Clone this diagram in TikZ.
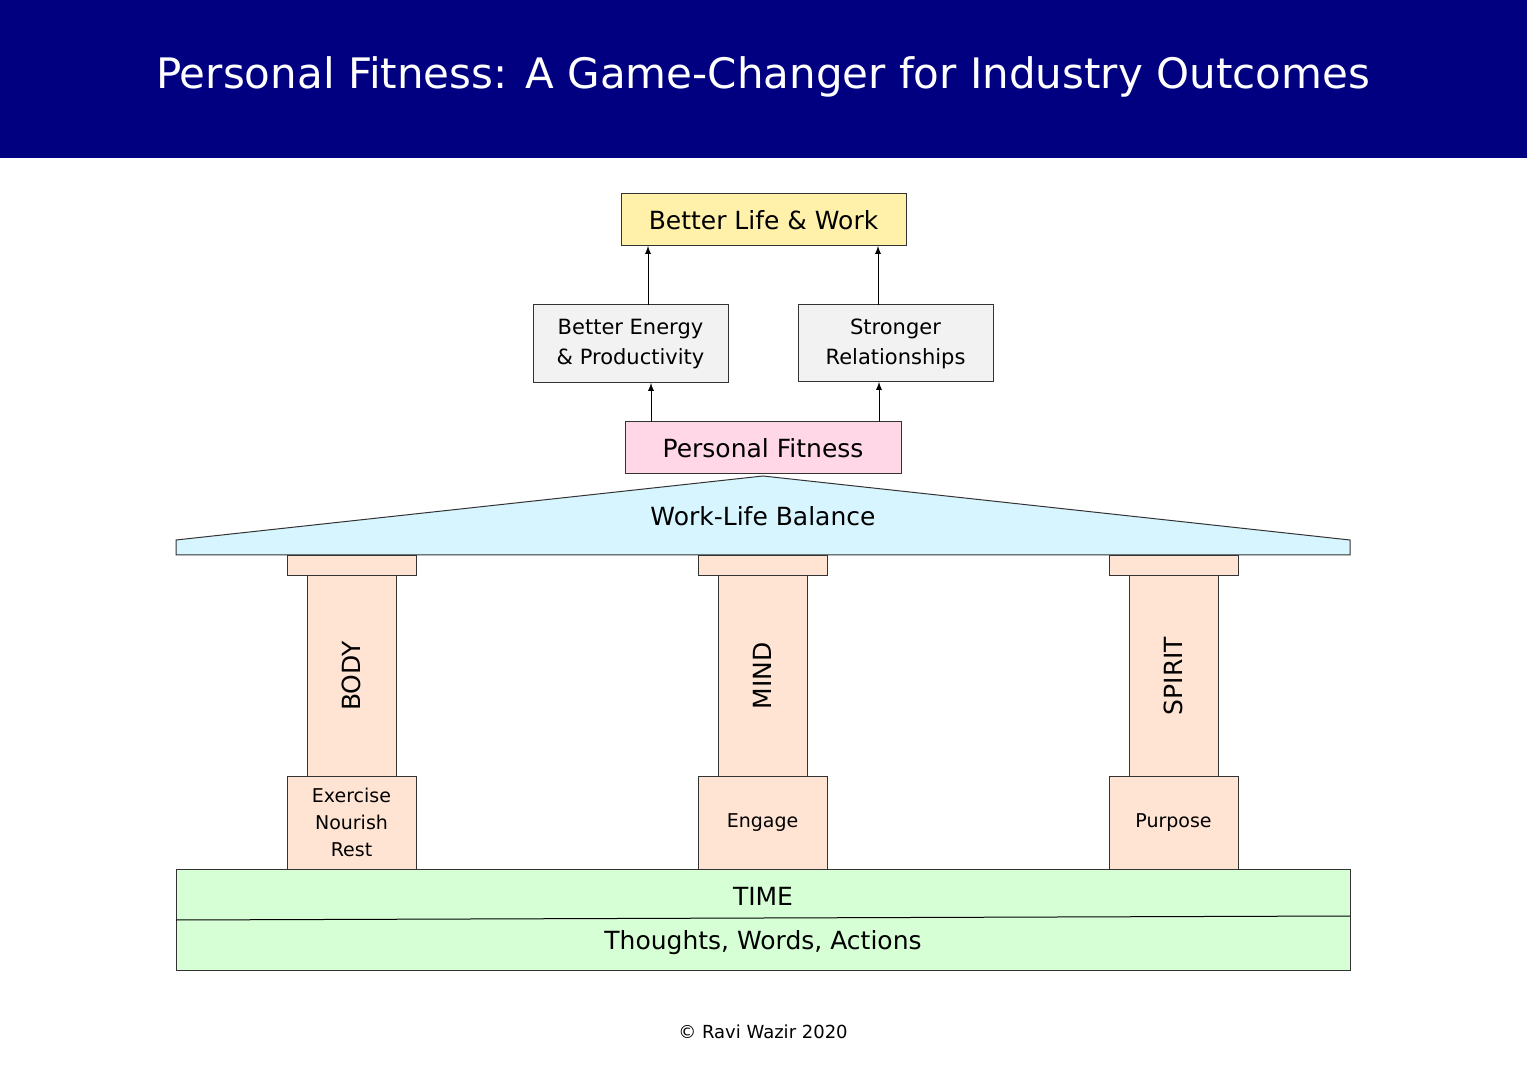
\documentclass[tikz,border=0pt]{standalone}
\usepackage{fontspec}
\setmainfont{DejaVu Sans}
\begin{document}
\begin{tikzpicture}[x=0.5pt,y=-0.5pt,
 box/.style={draw=black!80,line width=0.5pt,inner sep=0pt,align=center},
 arr/.style={-latex,line width=0.4pt}]
\useasboundingbox (0,0) rectangle (1527,1080);
\fill[white] (0,0) rectangle (1527,1080);
\fill[fill={rgb,255:red,0;green,0;blue,128}] (0,0) rectangle (1527,158);
\node[text=white,font=\fontsize{21}{25}\selectfont] (title) at (763,77) {Personal Fitness: A Game-Changer for Industry Outcomes};
\node[box,fill={rgb,255:red,255;green,240;blue,170},minimum width=142.5pt,minimum height=26pt,font=\fontsize{12.5}{15}\selectfont] (life) at (763.5,220) {Better Life \& Work};
\node[box,fill={rgb,255:red,242;green,242;blue,242},minimum width=97.5pt,minimum height=39pt,font=\fontsize{10.5}{15}\selectfont] (energy) at (630.5,344) {Better Energy\\ \& Productivity};
\node[box,fill={rgb,255:red,242;green,242;blue,242},minimum width=97.5pt,minimum height=38.5pt,font=\fontsize{10.5}{15}\selectfont] (rel) at (895.5,343.5) {Stronger\\Relationships};
\node[box,fill={rgb,255:red,255;green,215;blue,230},minimum width=138pt,minimum height=26pt,font=\fontsize{12.5}{15}\selectfont] (pf) at (763,448) {Personal Fitness};
\draw[arr] (648,305) coordinate (a1) -- (648,246) coordinate (b1);
\draw[arr] (878,305) coordinate (a2) -- (878,246) coordinate (b2);
\draw[arr] (651,422) coordinate (a3) -- (651,383) coordinate (b3);
\draw[arr] (879,422) coordinate (a4) -- (879,382) coordinate (b4);
\draw[draw=black!80,line width=0.5pt,fill={rgb,255:red,214;green,245;blue,255}] (176,540) -- (763,476) -- (1350,540) -- (1350,555) -- (176,555) -- cycle;
\node[font=\fontsize{12.5}{15}\selectfont] (wlb) at (763,516) {Work-Life Balance};
\draw[draw=black!80,line width=0.5pt,fill={rgb,255:red,214;green,255;blue,214}] (176,869) rectangle (1350,970);
\draw[line width=0.5pt] (176,920) -- (1350,916);
\node[font=\fontsize{12.5}{15}\selectfont] (time) at (763,896) {TIME};
\node[font=\fontsize{12.5}{15}\selectfont] (twa) at (763,943) {Thoughts, Words, Actions};
\foreach \c/\n/\t/\b in {351.5/BODY/body/{Exercise\\Nourish\\Rest},762.5/MIND/mind/Engage,1173.5/SPIRIT/spirit/Purpose}{
 \draw[draw=black!80,line width=0.5pt,fill={rgb,255:red,255;green,228;blue,212}] (\c-64.5,556) rectangle (\c+64.5,576);
 \draw[draw=black!80,line width=0.5pt,fill={rgb,255:red,255;green,228;blue,212}] (\c-44.5,576) rectangle (\c+44.5,776);
 \node[rotate=90,font=\fontsize{12.5}{15}\selectfont] (\t) at (\c,676) {\n};
 \node[box,fill={rgb,255:red,255;green,228;blue,212},minimum width=64.5pt,minimum height=46.5pt,font=\fontsize{9.5}{13.5}\selectfont] (\t base) at (\c,822.5) {\b};
}
\node[font=\fontsize{9}{11}\selectfont] (copy) at (763,1032) {© Ravi Wazir 2020};
\end{tikzpicture}
\end{document}
